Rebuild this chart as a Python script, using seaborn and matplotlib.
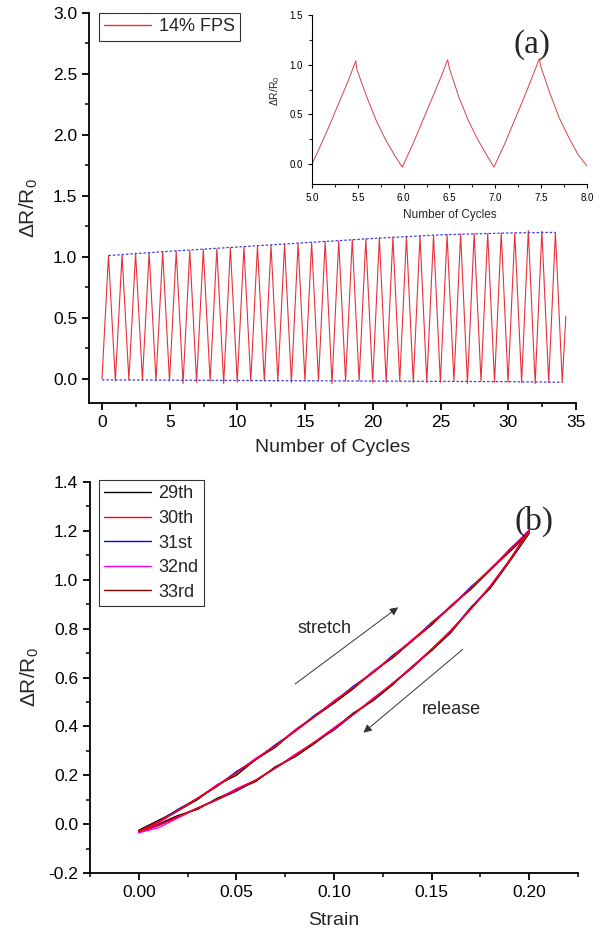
import numpy as np
import pandas as pd
import matplotlib
matplotlib.use("Agg")
import matplotlib.pyplot as plt
import seaborn as sns
from matplotlib.ticker import MultipleLocator, FormatStrFormatter

# ---------------- data: panel (a) ----------------
# peak values of each loading cycle (34 cycles) and the following trough values
peak_values = [1.01, 1.015, 1.03, 1.035, 1.04, 1.045, 1.05, 1.06, 1.065, 1.075,
               1.08, 1.09, 1.095, 1.10, 1.11, 1.115, 1.125, 1.13, 1.14, 1.145,
               1.155, 1.16, 1.165, 1.17, 1.175, 1.18, 1.185, 1.19, 1.19, 1.195,
               1.195, 1.215, 1.21, 1.20]
trough_values = [-0.02, -0.01, -0.01, -0.02, -0.02, -0.04, -0.03, -0.02, -0.04, -0.03,
                 -0.02, -0.02, -0.02, -0.03, -0.02, -0.02, -0.04, -0.02, -0.02, -0.03,
                 -0.03, -0.02, -0.03, -0.03, -0.03, -0.02, -0.04, -0.02, -0.03, -0.03,
                 -0.03, -0.04, -0.03, -0.03]
start_value = 0.0
end_time, end_value = 34.25, 0.51
peak_phase, trough_phase = 0.48, 0.985

upper_env_x = [0.48, 5, 10, 15, 20, 25, 30, 33.48]
upper_env_y = [1.01, 1.045, 1.08, 1.115, 1.15, 1.18, 1.195, 1.20]
lower_env_x = [0, 10, 20, 30, 34]
lower_env_y = [-0.01, -0.015, -0.02, -0.025, -0.03]

# inset: cycles 5 - 8
inset_x = [5.0, 5.1, 5.2, 5.3, 5.4, 5.478, 5.49, 5.6, 5.7, 5.8, 5.9, 5.985,
           6.1, 6.2, 6.3, 6.4, 6.48, 6.5, 6.6, 6.7, 6.8, 6.9, 6.985,
           7.1, 7.2, 7.3, 7.4, 7.48, 7.5, 7.6, 7.7, 7.8, 7.9, 8.0]
inset_y = [0.0, 0.20, 0.41, 0.63, 0.85, 1.04, 0.95, 0.67, 0.44, 0.25, 0.09, -0.03,
           0.20, 0.42, 0.64, 0.86, 1.05, 0.96, 0.68, 0.45, 0.26, 0.10, -0.03,
           0.20, 0.42, 0.64, 0.87, 1.06, 0.97, 0.70, 0.46, 0.27, 0.10, -0.02]

# ---------------- data: panel (b) ----------------
strain = [0.00, 0.01, 0.02, 0.03, 0.04, 0.05, 0.06, 0.07, 0.08, 0.09, 0.10,
          0.11, 0.12, 0.13, 0.14, 0.15, 0.16, 0.17, 0.18, 0.19, 0.20]
cycle_names = ["29th", "30th", "31st", "32nd", "33rd"]
cycle_colors = ["black", "#ff0000", "#0000ff", "#ff00ff", "#8b0000"]
stretch_29 = [-0.025, 0.015, 0.055, 0.10, 0.16, 0.20, 0.265, 0.315, 0.385, 0.44, 0.495,
              0.555, 0.625, 0.68, 0.75, 0.815, 0.895, 0.96, 1.04, 1.115, 1.19]
release_29 = [-0.03, 0.0, 0.035, 0.06, 0.105, 0.14, 0.175, 0.235, 0.275, 0.33, 0.39,
              0.455, 0.505, 0.57, 0.645, 0.71, 0.785, 0.885, 0.965, 1.075, 1.19]
stretch_30 = [-0.03, 0.01, 0.055, 0.105, 0.155, 0.21, 0.265, 0.32, 0.38, 0.44, 0.50,
              0.56, 0.62, 0.685, 0.75, 0.82, 0.89, 0.965, 1.04, 1.12, 1.195]
release_30 = [-0.03, -0.005, 0.03, 0.065, 0.10, 0.14, 0.18, 0.23, 0.28, 0.335, 0.39,
              0.45, 0.51, 0.575, 0.64, 0.715, 0.79, 0.88, 0.97, 1.08, 1.195]
stretch_31 = [-0.03, 0.01, 0.06, 0.105, 0.155, 0.215, 0.265, 0.325, 0.38, 0.445, 0.50,
              0.565, 0.62, 0.69, 0.75, 0.825, 0.89, 0.97, 1.04, 1.125, 1.20]
release_31 = [-0.035, -0.005, 0.03, 0.065, 0.10, 0.135, 0.18, 0.23, 0.28, 0.335, 0.385,
              0.45, 0.51, 0.575, 0.64, 0.715, 0.79, 0.885, 0.97, 1.08, 1.20]
stretch_32 = [-0.035, 0.005, 0.055, 0.105, 0.16, 0.21, 0.27, 0.32, 0.385, 0.44, 0.505,
              0.56, 0.625, 0.685, 0.755, 0.82, 0.895, 0.965, 1.045, 1.12, 1.205]
release_32 = [-0.035, -0.015, 0.025, 0.065, 0.10, 0.145, 0.18, 0.23, 0.285, 0.335, 0.395,
              0.45, 0.515, 0.575, 0.645, 0.715, 0.795, 0.88, 0.975, 1.08, 1.205]
stretch_33 = [-0.03, 0.01, 0.055, 0.105, 0.155, 0.21, 0.265, 0.32, 0.38, 0.44, 0.50,
              0.56, 0.62, 0.685, 0.75, 0.82, 0.89, 0.965, 1.04, 1.12, 1.20]
release_33 = [-0.03, -0.005, 0.03, 0.065, 0.10, 0.14, 0.18, 0.23, 0.28, 0.335, 0.39,
              0.45, 0.51, 0.575, 0.64, 0.715, 0.79, 0.88, 0.97, 1.08, 1.20]
stretch_all = [stretch_29, stretch_30, stretch_31, stretch_32, stretch_33]
release_all = [release_29, release_30, release_31, release_32, release_33]
draw_zorder = [2.1, 2.6, 2.2, 2.3, 2.4]

# ---------------- style ----------------
sns.set_style("ticks")
plt.rcParams["font.family"] = ["Liberation Sans", "DejaVu Sans"]
plt.rcParams["mathtext.fontset"] = "custom"
plt.rcParams["mathtext.rm"] = "Liberation Sans"

W, H = 600, 938
fig = plt.figure(figsize=(6, 9.38), dpi=100)

def fa(l, t, r, b):
    return [l / W, 1 - b / H, (r - l) / W, (b - t) / H]

ax1 = fig.add_axes(fa(89, 13, 576, 403))
ax_in = fig.add_axes(fa(312, 15, 587, 184))
ax2 = fig.add_axes(fa(90, 482, 578, 873))

def style_axis(ax, lw=1.3, maj=5, mnr=3, size=11):
    for s in ["top", "right"]:
        ax.spines[s].set_visible(False)
    for s in ["left", "bottom"]:
        ax.spines[s].set_linewidth(lw)
        ax.spines[s].set_color("black")
    ax.tick_params(which="major", direction="out", length=maj, width=lw, labelsize=size, colors="black")
    ax.tick_params(which="minor", direction="out", length=mnr, width=lw)

ylab = "\u0394R/R$_\\mathregular{0}$"

# ---------------- panel (a) main ----------------
peak_t = np.arange(len(peak_values)) + peak_phase
trough_t = np.arange(len(trough_values)) + trough_phase
tx = [0.0]
ty = [start_value]
for pt, pv, tt, tv in zip(peak_t, peak_values, trough_t, trough_values):
    tx += [pt, tt]
    ty += [pv, tv]
tx.append(end_time)
ty.append(end_value)
df_a = pd.DataFrame({"cycles": tx, "dr": ty, "series": "14% FPS"})

sns.lineplot(data=df_a, x="cycles", y="dr", hue="series", palette=["#e8303a"],
             sort=False, estimator=None, lw=0.8, ax=ax1)
sns.lineplot(x=upper_env_x, y=upper_env_y, color="#4040e0", lw=0.9,
             linestyle=(0, (2, 1.5)), ax=ax1, legend=False)
sns.lineplot(x=lower_env_x, y=lower_env_y, color="#4040e0", lw=0.9,
             linestyle=(0, (2, 1.5)), ax=ax1, legend=False)

ax1.set_xlim(-0.96, 35)
ax1.set_ylim(-0.2, 3.0)
ax1.xaxis.set_major_locator(MultipleLocator(5))
ax1.xaxis.set_minor_locator(MultipleLocator(2.5))
ax1.yaxis.set_major_locator(MultipleLocator(0.5))
ax1.yaxis.set_minor_locator(MultipleLocator(0.25))
ax1.yaxis.set_major_formatter(FormatStrFormatter("%.1f"))
style_axis(ax1, size=12.5)
ax1.set_xlabel("Number of Cycles", fontsize=14)
ax1.set_ylabel(ylab, fontsize=15)
ax1.xaxis.set_label_coords(0.5, -0.093)
ax1.yaxis.set_label_coords(-0.10, 0.5)
leg = ax1.legend(loc="upper left", bbox_to_anchor=(10 / 487, 1.0), borderaxespad=0,
                 fontsize=13, frameon=True, fancybox=False, handlelength=2.6,
                 borderpad=0.3, handletextpad=0.4)
leg.get_frame().set_edgecolor("black")
leg.get_frame().set_linewidth(0.8)
for h in leg.get_lines():
    h.set_linewidth(1.0)
ax1.text(0.91, 0.92, "(a)", transform=ax1.transAxes, fontsize=24,
         family="Liberation Serif", ha="center", va="center")

# ---------------- inset ----------------
sns.lineplot(x=inset_x, y=inset_y, color="#d84048", lw=0.7, sort=False,
             estimator=None, ax=ax_in)
ax_in.set_xlim(5.0, 8.0)
ax_in.set_ylim(-0.2, 1.5)
ax_in.xaxis.set_major_locator(MultipleLocator(0.5))
ax_in.xaxis.set_minor_locator(MultipleLocator(0.25))
ax_in.yaxis.set_major_locator(MultipleLocator(0.5))
ax_in.yaxis.set_minor_locator(MultipleLocator(0.25))
ax_in.xaxis.set_major_formatter(FormatStrFormatter("%.1f"))
ax_in.yaxis.set_major_formatter(FormatStrFormatter("%.1f"))
style_axis(ax_in, lw=0.8, maj=3, mnr=2, size=7)
ax_in.set_facecolor("none")
ax_in.set_xlabel("Number of Cycles", fontsize=8.5)
ax_in.set_ylabel(ylab, fontsize=7.5)
ax_in.xaxis.set_label_coords(0.5, -0.15)
ax_in.yaxis.set_label_coords(-0.11, 0.55)

# ---------------- panel (b) ----------------
for name, color, s_vals, r_vals, z in zip(cycle_names, cycle_colors, stretch_all,
                                          release_all, draw_zorder):
    loop_x = list(strain) + list(strain[::-1])
    loop_y = list(s_vals) + list(r_vals[::-1])
    sns.lineplot(x=loop_x, y=loop_y, color=color, sort=False, estimator=None,
                 lw=1.0, label=name, ax=ax2, zorder=z)

ax2.set_xlim(-0.025, 0.225)
ax2.set_ylim(-0.2, 1.4)
ax2.xaxis.set_major_locator(MultipleLocator(0.05))
ax2.xaxis.set_minor_locator(MultipleLocator(0.025))
ax2.yaxis.set_major_locator(MultipleLocator(0.2))
ax2.yaxis.set_minor_locator(MultipleLocator(0.1))
ax2.xaxis.set_major_formatter(FormatStrFormatter("%.2f"))
ax2.yaxis.set_major_formatter(FormatStrFormatter("%.1f"))
style_axis(ax2, size=12.5)
ax2.set_xlabel("Strain", fontsize=14)
ax2.set_ylabel(ylab, fontsize=15)
ax2.xaxis.set_label_coords(0.5, -0.10)
ax2.yaxis.set_label_coords(-0.10, 0.5)
leg2 = ax2.legend(loc="upper left", bbox_to_anchor=(9 / 488, 1.005), borderaxespad=0,
                  fontsize=13, frameon=True, fancybox=False, handlelength=2.6,
                  borderpad=0.3, handletextpad=0.4, labelspacing=0.42)
leg2.get_frame().set_edgecolor("black")
leg2.get_frame().set_linewidth(0.8)
for h in leg2.get_lines():
    h.set_linewidth(1.0)
ax2.text(0.91, 0.90, "(b)", transform=ax2.transAxes, fontsize=24,
         family="Liberation Serif", ha="center", va="center")

ax2.annotate("", xy=(0.134, 0.894), xytext=(0.079, 0.567),
             arrowprops=dict(arrowstyle="-|>", color="#333333", lw=0.7,
                             mutation_scale=12))
ax2.annotate("", xy=(0.114, 0.367), xytext=(0.167, 0.722),
             arrowprops=dict(arrowstyle="-|>", color="#333333", lw=0.7,
                             mutation_scale=12))
ax2.text(0.095, 0.80, "stretch", fontsize=13, ha="center", va="center")
ax2.text(0.160, 0.47, "release", fontsize=13, ha="center", va="center")

fig.savefig("out.png", dpi=100)
